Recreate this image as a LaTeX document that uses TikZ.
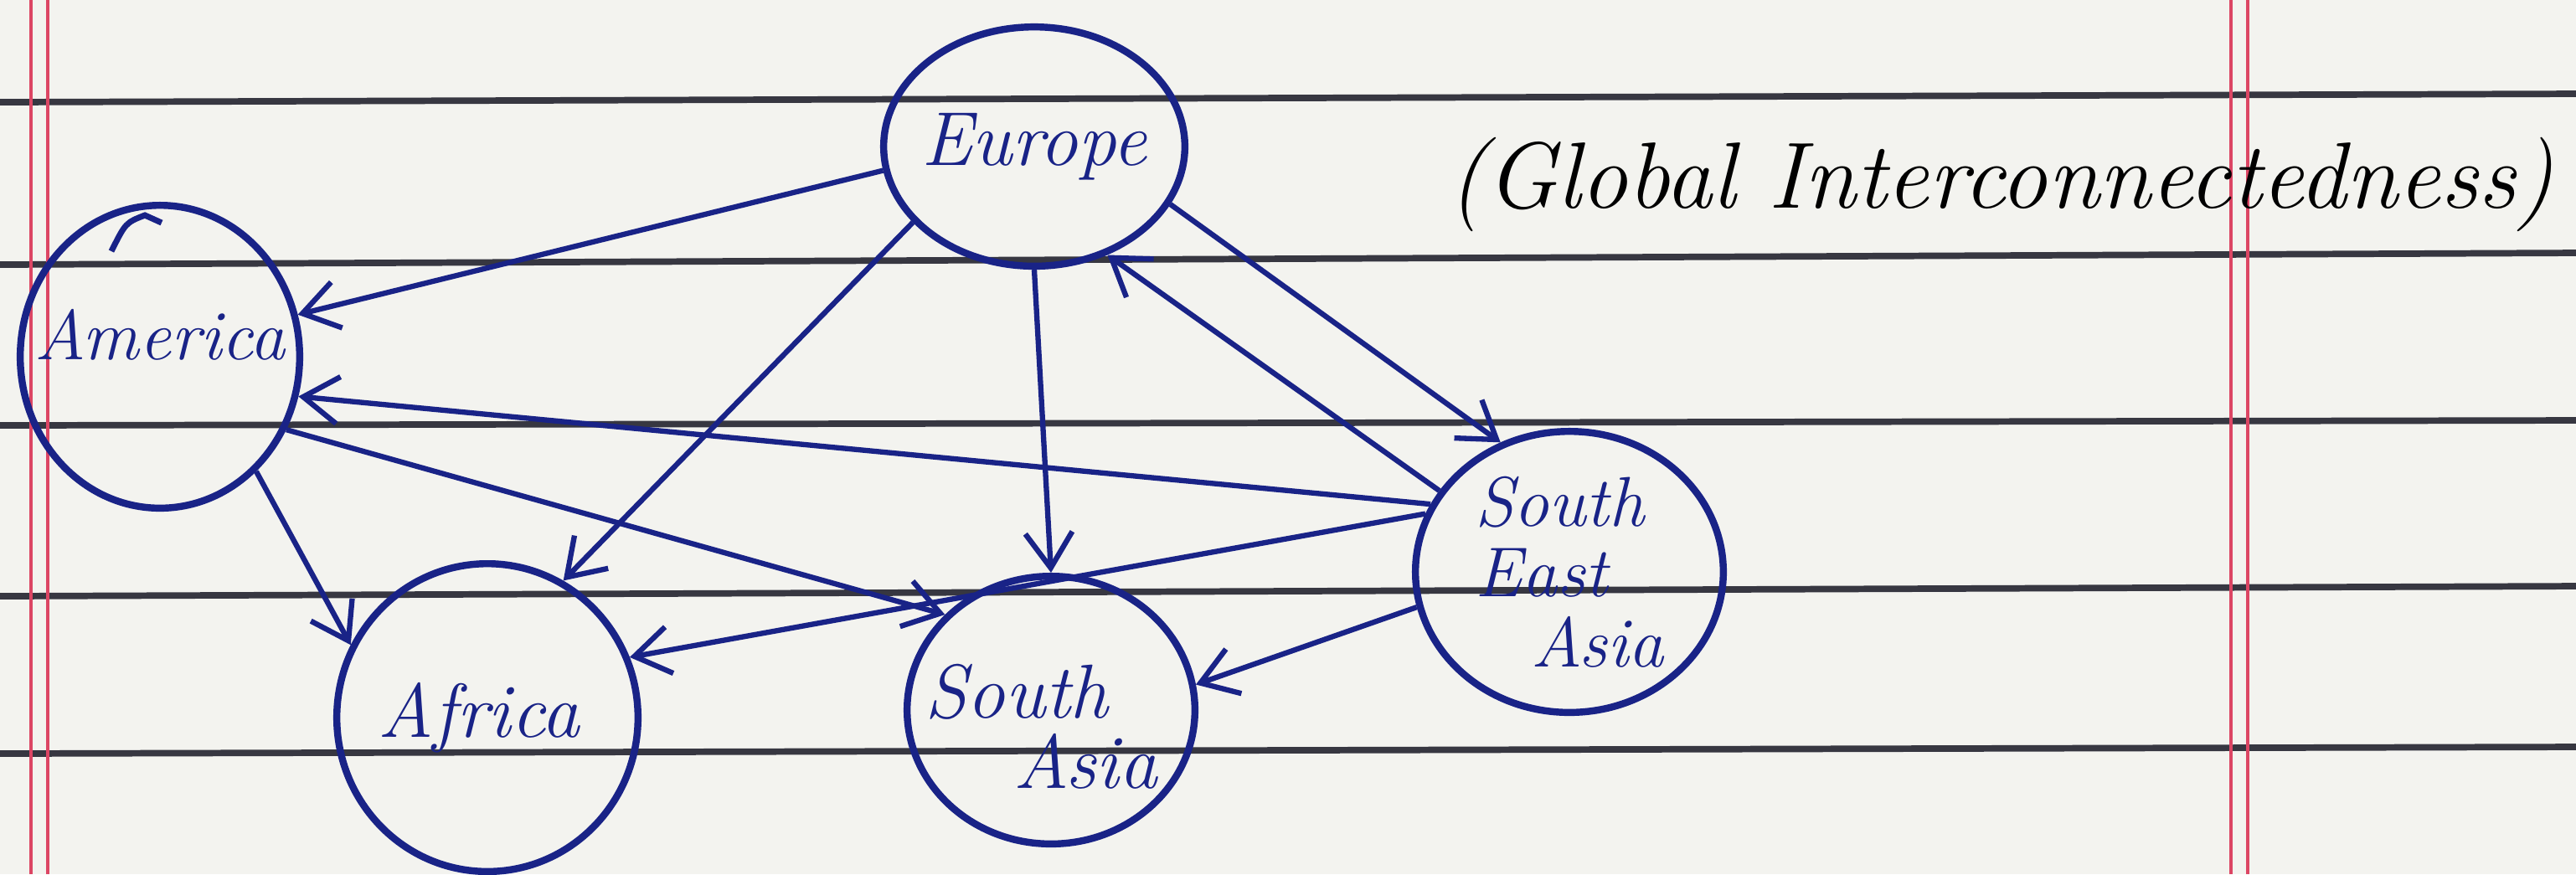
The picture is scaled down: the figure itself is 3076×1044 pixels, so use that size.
\documentclass[tikz,border=0pt]{standalone}
\usepackage{tikz}
\usetikzlibrary{shapes.geometric,arrows.meta}

\definecolor{ink}{RGB}{25,35,135}
\definecolor{paper}{RGB}{243,243,239}
\definecolor{rule}{RGB}{55,55,65}
\definecolor{margin}{RGB}{220,70,100}

\begin{document}
\begin{tikzpicture}[
    x=0.005cm, y=-0.005cm,
    region/.style={draw=ink, ellipse, line width=1.2pt, inner sep=0pt},
    tag/.style={text=ink, align=center, font=\fontsize{13}{12}\selectfont\itshape},
    link/.style={draw=ink, line width=0.9pt, -{Straight Barb[length=6pt,width=8pt]}},
    ruling/.style={draw=rule, line width=1.1pt},
    marginline/.style={draw=margin, line width=0.7pt}
]
    \fill[paper] (0,0) rectangle (3076,1044);
    \useasboundingbox (0,0) rectangle (3076,1044);

    % ruled paper
    \draw[ruling] (0,122) -- (3076,112);
    \draw[ruling] (0,316) -- (3076,302);
    \draw[ruling] (0,508) -- (3076,502);
    \draw[ruling] (0,712) -- (3076,700);
    \draw[ruling] (0,900) -- (3076,892);
    \foreach \mx in {37,57,2664,2684}
        \draw[marginline] (\mx,0) -- (\mx,1044);

    \node[region, minimum width=1.8cm, minimum height=1.43cm,
          label={[tag]center:Europe}] (europe) at (1235,175) {};
    \node[region, minimum width=1.67cm, minimum height=1.81cm,
          label={[tag, font=\fontsize{12}{12}\selectfont\itshape, yshift=0.13cm]center:America}] (america) at (191,426) {};
    \node[region, minimum width=1.8cm, minimum height=1.84cm,
          label={[tag, xshift=-0.05cm]center:Africa}] (africa) at (582,857) {};
    \node[region, minimum width=1.72cm, minimum height=1.6cm,
          label={[tag, yshift=-0.1cm]center:South\hspace*{0.9em}\\\hspace*{0.9em}Asia}] (southasia) at (1255,848) {};
    \node[region, minimum width=1.84cm, minimum height=1.68cm,
          label={[tag, align=left, font=\fontsize{12}{12}\selectfont\itshape]center:South\\East\\\hspace*{0.8em}Asia}] (seasia) at (1874,683) {};
    \draw[ink, line width=1pt] (133,300) .. controls (150,266) .. (173,257) -- (193,266);

    \node[font=\fontsize{16}{18}\selectfont\itshape] (title) at (2389,220) {(Global Interconnectedness)};

    \draw[link] (europe.189) -- (america.17);
    \draw[link] (europe.212) -- (africa.61);
    \draw[link] (europe.270) -- (southasia.90);
    \draw[link] (europe.337) -- (seasia.118);
    \draw[link] (seasia.148) -- (europe.304);
    \draw[link] (seasia.154) -- (america.344);
    \draw[link] (seasia.158) -- (africa.23);
    \draw[link] (seasia.193) -- (southasia.10);
    \draw[link] (america.310) -- (africa.152);
    \draw[link] (america.330) -- (southasia.138);
\end{tikzpicture}
\end{document}
